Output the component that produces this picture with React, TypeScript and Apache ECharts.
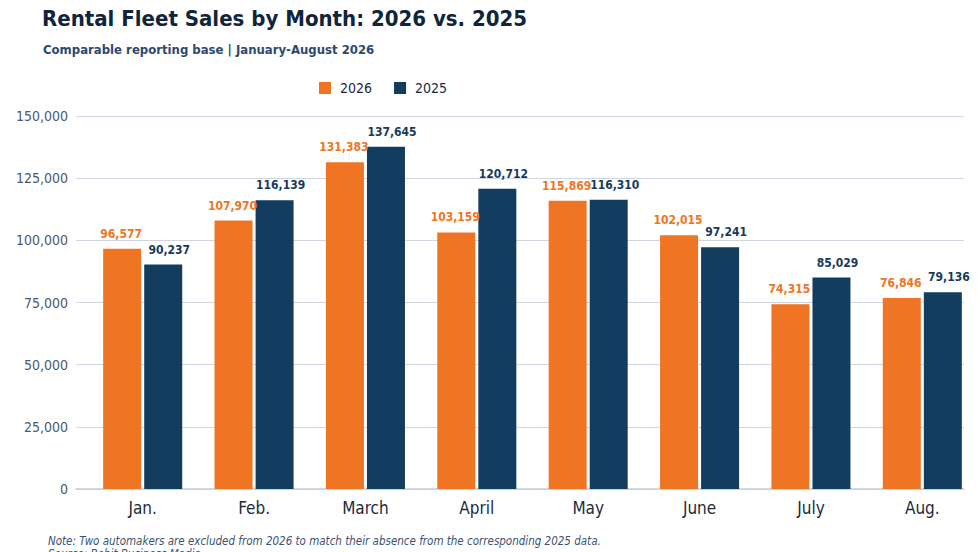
import { useEffect, useRef } from "react";
import * as echarts from "echarts";

const months = ["Jan.", "Feb.", "March", "April", "May", "June", "July", "Aug."];
const sales2026 = [96577, 107970, 131383, 103159, 115869, 102015, 74315, 76846];
const sales2025 = [90237, 116139, 137645, 120712, 116310, 97241, 85029, 79136];
const yTicks = [0, 25000, 50000, 75000, 100000, 125000, 150000];

const ORANGE = "#ef7424";
const NAVY = "#123d5f";
const FONT = "'DejaVu Sans Condensed', 'Liberation Sans Narrow', Roboto, sans-serif";

const fmt = (v: number) => v.toLocaleString("en-US");

export default function App() {
  const chartRef = useRef<HTMLDivElement>(null);

  useEffect(() => {
    if (!chartRef.current) return;
    const chart = echarts.init(chartRef.current, null, { renderer: "svg" });

    const yMax = yTicks[yTicks.length - 1];
    const step = yTicks[1] - yTicks[0];

    chart.setOption({
      animation: false,
      backgroundColor: "#ffffff",
      textStyle: { fontFamily: FONT },
      title: [
        {
          text: "Rental Fleet Sales by Month: 2026 vs. 2025",
          left: 37,
          top: 2,
          textStyle: { fontFamily: FONT, fontSize: 22, fontWeight: "bold", color: "#10253b" },
        },
        {
          text: "Comparable reporting base | January-August 2026",
          left: 38,
          top: 38,
          textStyle: { fontFamily: FONT, fontSize: 13, fontWeight: "bold", color: "#2b4a6c" },
        },
      ],
      legend: {
        left: 314,
        top: 76,
        itemWidth: 12,
        itemHeight: 12,
        itemGap: 22,
        icon: "rect",
        textStyle: { fontFamily: FONT, fontSize: 14, color: "#1b2b3c", padding: [0, 0, 0, 4] },
        data: ["2026", "2025"],
      },
      graphic: [
        {
          type: "text",
          left: 48,
          top: 535,
          style: {
            text: "Note: Two automakers are excluded from 2026 to match their absence from the corresponding 2025 data.",
            font: `italic 11.5px ${FONT}`,
            fill: "#3b5272",
          },
        },
        {
          type: "text",
          left: 48,
          top: 548,
          style: {
            text: "Source: Bobit Business Media",
            font: `italic 11.5px ${FONT}`,
            fill: "#3b5272",
          },
        },
      ],
      grid: [
        { left: 87, right: 2, top: 116, bottom: 63 },
        { left: 76, right: 16, top: 116, bottom: 63 },
      ],
      xAxis: [
        {
          type: "category",
          gridIndex: 0,
          data: months,
          axisLine: { show: false },
          axisTick: { show: false },
          axisLabel: { margin: 10, fontSize: 17, color: "#1b2b3c", fontFamily: FONT },
        },
        {
          type: "category",
          gridIndex: 1,
          data: months,
          axisLine: { show: true, lineStyle: { color: "#c6cedb", width: 1.5 } },
          axisTick: { show: false },
          axisLabel: { show: false },
        },
      ],
      yAxis: [
        { type: "value", gridIndex: 0, min: 0, max: yMax, interval: step, show: false, splitLine: { show: false } },
        {
          type: "value",
          gridIndex: 1,
          min: 0,
          max: yMax,
          interval: step,
          axisLine: { show: false },
          axisTick: { show: false },
          axisLabel: { margin: 8, fontSize: 14, color: "#4a5a70", fontFamily: FONT, formatter: (v: number) => fmt(v) },
          splitLine: { lineStyle: { color: "#cfd6e1", width: 1.2 } },
        },
      ],
      series: [
        {
          name: "2026",
          type: "bar",
          xAxisIndex: 0,
          yAxisIndex: 0,
          data: sales2026,
          barWidth: 38,
          barGap: "8%",
          itemStyle: { color: ORANGE },
          label: {
            show: true,
            position: "top",
            distance: 9,
            offset: [-1, 0],
            fontSize: 12,
            fontWeight: "bold",
            color: ORANGE,
            fontFamily: FONT,
            formatter: (p: any) => fmt(p.value),
          },
        },
        {
          name: "2025",
          type: "bar",
          xAxisIndex: 0,
          yAxisIndex: 0,
          data: sales2025,
          barWidth: 38,
          barGap: "8%",
          itemStyle: { color: NAVY },
          label: {
            show: true,
            position: "top",
            distance: 9,
            offset: [6, 0],
            fontSize: 12,
            fontWeight: "bold",
            color: "#173a5c",
            fontFamily: FONT,
            formatter: (p: any) => fmt(p.value),
          },
        },
      ],
    });

    return () => chart.dispose();
  }, []);

  return (
    <div style={{ position: "fixed", left: 0, top: 0, width: 980, height: 552 }}>
      <div ref={chartRef} style={{ width: 980, height: 552 }} />
    </div>
  );
}
